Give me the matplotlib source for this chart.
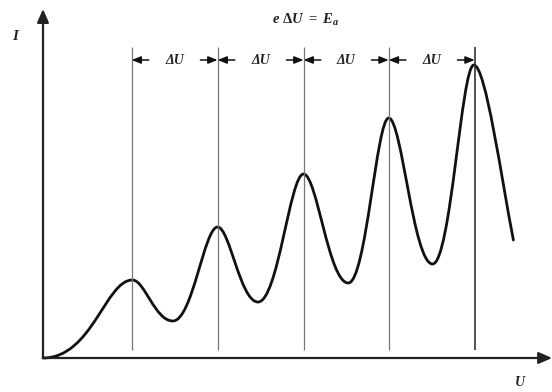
import numpy as np
import matplotlib
matplotlib.use("Agg")
import matplotlib.pyplot as plt
from matplotlib.path import Path
from matplotlib.patches import PathPatch

# Franck-Hertz curve: start, alternating maxima / minima, end
U_curve = [0.00, 1.04, 1.51, 2.03, 2.50, 3.03, 3.55, 4.02, 4.53, 5.01, 5.47]
I_curve = [0.00, 0.78, 0.37, 1.31, 0.56, 1.84, 0.75, 2.40, 0.94, 2.93, 1.18]

peak_U = [1.03, 2.03, 3.03, 4.02, 5.02]
top_I = 3.11        # top of the vertical guide lines
arrow_I = 2.98      # height of the dU dimension arrows
du_label = "\u0394U"
title_label = r"$e\ \Delta U\ =\ E_a$"

plt.rcParams['mathtext.fontset'] = 'custom'
plt.rcParams['mathtext.rm'] = 'Liberation Serif:bold'
plt.rcParams['mathtext.it'] = 'Liberation Serif:italic:bold'
plt.rcParams['mathtext.bf'] = 'Liberation Serif:bold'

fig = plt.figure(figsize=(5.52, 3.92), dpi=100)
ax = fig.add_axes([0, 0, 1, 1])
ax.set_xlim(-0.5, 5.919)
ax.set_ylim(-0.34, 3.58)
ax.axis("off")

txt = dict(family="Liberation Serif", style="italic", weight="bold", color="#222222")

# axes with arrows
ax.annotate("", xy=(5.92, 0), xytext=(0, 0),
            arrowprops=dict(arrowstyle="-|>,head_length=0.8,head_width=0.35",
                            color="#222222", lw=1.6, shrinkA=0, shrinkB=0))
ax.annotate("", xy=(0, 3.49), xytext=(0, 0),
            arrowprops=dict(arrowstyle="-|>,head_length=0.8,head_width=0.35",
                            color="#222222", lw=1.6, shrinkA=0, shrinkB=0))

# vertical guide lines
for i, u in enumerate(peak_U):
    ax.plot([u, u], [0.08, top_I], color="#333333" if i == 4 else "#777777",
            lw=1.2 if i == 4 else 0.9, solid_capstyle="butt")

# dimension arrows with dU labels
for a, b in zip(peak_U[:-1], peak_U[1:]):
    for start, end in [(a + 0.2, a), (b - 0.2, b)]:
        ax.annotate("", xy=(end, arrow_I), xytext=(start, arrow_I),
                    arrowprops=dict(arrowstyle="-|>,head_length=0.55,head_width=0.22",
                                    color="#111111", lw=1.1, shrinkA=0, shrinkB=0))
    ax.text((a + b) / 2, arrow_I, du_label, ha="center", va="center",
            fontsize=10, **txt)

ax.text(3.05, 3.38, title_label, ha="center", va="center", fontsize=10.5,
        color="#222222")

# curve: cubic segments between the extrema, flat tangent at each extremum
x = np.array(U_curve)
y = np.array(I_curve)
n = len(x)
verts = [(x[0], y[0])]
codes = [Path.MOVETO]
for k in range(n - 1):
    dx = x[k + 1] - x[k]
    # handle lengths: rounder valleys, sharper peaks
    h0 = 0.55 if k == 0 else (0.30 if y[k] > y[k + 1] else 0.44)
    if k + 1 == n - 1:
        end_slope = 1.15 * (y[k + 1] - y[k]) / dx
        c2 = (x[k + 1] - 0.3 * dx, y[k + 1] - end_slope * 0.3 * dx)
    else:
        h1 = 0.30 if y[k + 1] > y[k] else 0.44
        c2 = (x[k + 1] - h1 * dx, y[k + 1])
    verts += [(x[k] + h0 * dx, y[k]), c2, (x[k + 1], y[k + 1])]
    codes += [Path.CURVE4] * 3
ax.add_patch(PathPatch(Path(verts, codes), fill=False, edgecolor="#111111",
                       lw=2.0, joinstyle="round", capstyle="round"))

ax.text(-0.33, 3.22, "I", ha="center", va="center", fontsize=11, **txt)
ax.text(5.55, -0.24, "U", ha="center", va="center", fontsize=10, **txt)

fig.savefig("out.png", dpi=100)
